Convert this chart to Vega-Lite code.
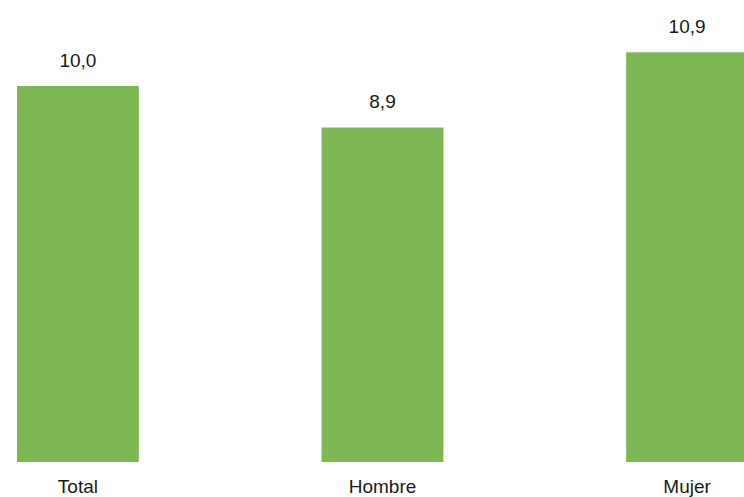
{
  "$schema": "https://vega.github.io/schema/vega-lite/v6.json",
  "width": 744,
  "height": 462,
  "autosize": {"type": "none"},
  "padding": {"left": 0, "top": 0, "right": 0, "bottom": 35},
  "background": "#ffffff",
  "config": {
    "view": {"stroke": null},
    "font": "Liberation Sans",
    "locale": {"number": {"decimal": ",", "thousands": ".", "grouping": [3], "currency": ["", " €"]}}
  },
  "data": {
    "values": [
      {"sexo": "Total", "valor": 10.0},
      {"sexo": "Hombre", "valor": 8.9},
      {"sexo": "Mujer", "valor": 10.9}
    ]
  },
  "encoding": {
    "x": {
      "field": "sexo",
      "type": "nominal",
      "sort": null,
      "scale": {"type": "band", "range": [0, 765], "paddingInner": 0.6, "paddingOuter": 0.0558},
      "axis": {
        "title": null,
        "domain": false,
        "ticks": false,
        "tickSize": 0,
        "labelAngle": 0,
        "labelFont": "Liberation Sans",
        "labelFontSize": 19,
        "labelColor": "#1a1a1a",
        "labelBaseline": "alphabetic",
        "labelPadding": 30,
        "grid": false
      }
    },
    "y": {
      "field": "valor",
      "type": "quantitative",
      "scale": {"domain": [0, 12.29], "nice": false, "zero": true},
      "axis": null
    }
  },
  "layer": [
    {"mark": {"type": "bar", "color": "#7cb753"}},
    {
      "mark": {"type": "text", "baseline": "alphabetic", "dy": -19, "fontSize": 19, "font": "Liberation Sans", "color": "#1a1a1a"},
      "encoding": {"text": {"field": "valor", "type": "quantitative", "format": ".1f"}}
    }
  ]
}
